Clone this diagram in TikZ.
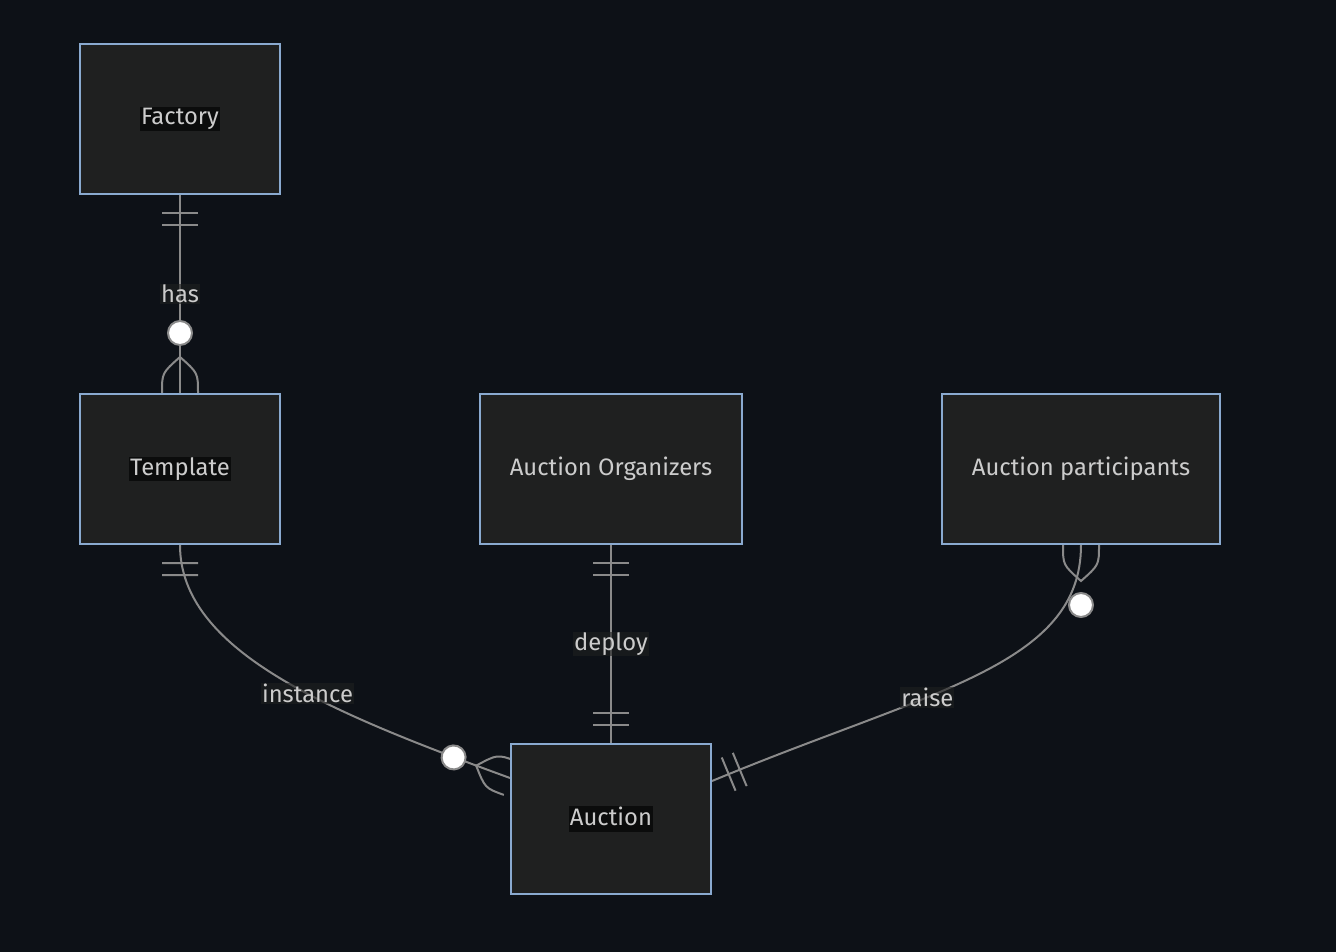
\documentclass[tikz,border=0pt]{standalone}
\usepackage{fontspec}
\setmainfont{Fira Sans}
\usetikzlibrary{decorations.markings}
\definecolor{pagebg}{HTML}{0D1117}
\definecolor{boxfill}{HTML}{1F2020}
\definecolor{boxline}{HTML}{8AAAD0}
\definecolor{relline}{HTML}{8A8A8A}
\definecolor{textfg}{HTML}{CCCCCC}
\definecolor{namebg}{HTML}{0B0C0C}
\pgfdeclarelayer{canvas}
\pgfdeclarelayer{links}
\pgfsetlayers{canvas,links,main}
\newcommand\entname[1]{{\setlength\fboxsep{1pt}\colorbox{namebg}{\vphantom{Ay}#1}}}
\tikzset{
  every node/.style={text=textfg, font=\fontsize{23.8}{28}\selectfont},
  entity/.style={draw=boxline, fill=boxfill, line width=2pt,
    minimum width=200pt, minimum height=150pt},
  rel/.style={draw=relline, line width=2pt},
  rellabel/.style={fill=boxfill, fill opacity=0.6, text opacity=1, inner sep=1pt},
  one start/.style={postaction={decorate, decoration={markings,
    mark=at position 0 with {\draw[rel] (18,-18) -- (18,18) (30,-18) -- (30,18);}}}},
  one end/.style={postaction={decorate, decoration={markings,
    mark=at position 0.9999 with {\draw[rel] (-18,-18) -- (-18,18) (-30,-18) -- (-30,18);}}}},
  many start/.style={postaction={decorate, decoration={markings,
    mark=at position 0 with {\draw[rel] (0,-18) .. controls (20,-18) .. (36,0)
      .. controls (20,18) .. (0,18);
      \draw[rel, fill=white] (60,0) circle[radius=12pt];}}}},
  many end/.style={postaction={decorate, decoration={markings,
    mark=at position 0.9999 with {\draw[rel] (0,-18) .. controls (-20,-18) .. (-36,0)
      .. controls (-20,18) .. (0,18);
      \draw[rel, fill=white] (-60,0) circle[radius=12pt];}}}}
}
\begin{document}
\begin{tikzpicture}[x=1pt, y=-1pt]
  \useasboundingbox (0,0) rectangle (1336,952);
  \begin{pgfonlayer}{canvas}
    \fill[pagebg] (0,0) rectangle (1336,952);
  \end{pgfonlayer}
  % entities
  \node[entity] (factory)      at (180,119)  {\entname{Factory}};
  \node[entity] (template)     at (180,469)  {\entname{Template}};
  \node[entity, minimum width=262pt] (organizers)   at (611,469)  {Auction Organizers};
  \node[entity, minimum width=278pt] (participants) at (1081,469) {Auction participants};
  \node[entity] (auction)      at (611,819)  {\entname{Auction}};
  \coordinate (auction west) at ([yshift=41pt]auction.west);
  \coordinate (auction east) at ([yshift=38pt]auction.east);
  % relations
  \begin{pgfonlayer}{links}
    \draw[rel, one start, many end] (factory.south) -- node[rellabel] {has} (template.north);
    \draw[rel, one start, many end] (template.south)
      .. controls +(0,106) and +(-181,-66) .. node[rellabel, pos=0.58] {instance} (auction west);
    \draw[rel, one start, one end] (organizers.south) -- node[rellabel] {deploy} (auction.north);
    \draw[rel, many start, one end] (participants.south)
      .. controls +(0,121) and +(219,-91) .. node[rellabel, pos=0.62] {raise} (auction east);
  \end{pgfonlayer}
\end{tikzpicture}
\end{document}
